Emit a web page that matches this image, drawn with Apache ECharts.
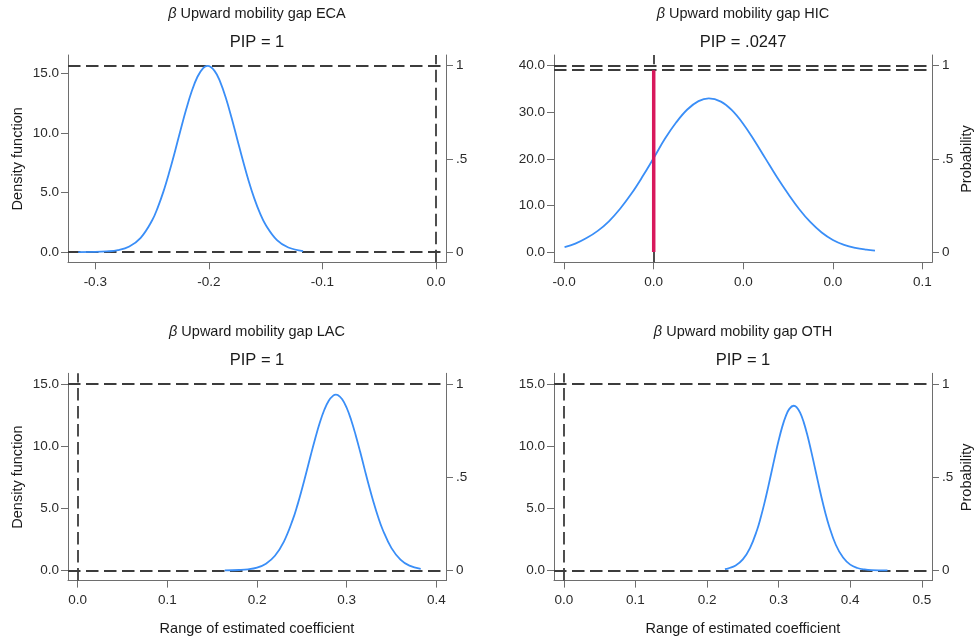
<!DOCTYPE html>
<html>
<head>
<meta charset="utf-8">
<script src="https://cdn.jsdelivr.net/npm/echarts@6/dist/echarts.min.js"></script>
<style>
  html, body { margin: 0; padding: 0; background: #ffffff; }
  #chart { width: 979px; height: 643px; }
</style>
</head>
<body>
<div id="chart"></div>
<script>
// Posterior density of the upward-mobility-gap coefficient by region,
// with the posterior inclusion probability (PIP) on a second axis.
const regions = ['ECA', 'HIC', 'LAC', 'OTH'];
const pip = [1, 0.0247, 1, 1];
const pipText = ['1', '.0247', '1', '1'];

// Density curves (coefficient value, density)
const ecaX = [-0.315, -0.30, -0.29, -0.28, -0.27, -0.26, -0.25, -0.245, -0.24, -0.235, -0.23, -0.225, -0.22, -0.215, -0.21, -0.205, -0.201, -0.195, -0.19, -0.185, -0.18, -0.175, -0.17, -0.165, -0.16, -0.155, -0.15, -0.14, -0.13, -0.117];
const ecaY = [0.0, 0.01, 0.05, 0.16, 0.47, 1.2, 2.65, 3.74, 5.08, 6.66, 8.4, 10.22, 11.98, 13.54, 14.74, 15.47, 15.65, 15.24, 14.31, 12.95, 11.29, 9.49, 7.69, 6.0, 4.51, 3.27, 2.29, 1.0, 0.38, 0.08];

const hicX = [-0.0199, -0.0175, -0.015, -0.0125, -0.01, -0.0075, -0.005, -0.0025, 0, 0.0025, 0.005, 0.0075, 0.01, 0.0123, 0.015, 0.0175, 0.02, 0.0225, 0.025, 0.0275, 0.03, 0.0325, 0.035, 0.0375, 0.04, 0.0425, 0.045, 0.0475, 0.0494];
const hicY = [1.05, 1.8, 3.0, 4.55, 6.6, 9.3, 12.5, 16.2, 20.2, 24.3, 27.8, 30.6, 32.4, 33.0, 32.3, 30.4, 27.5, 23.9, 20.0, 16.1, 12.5, 9.2, 6.4, 4.2, 2.6, 1.55, 0.9, 0.5, 0.3];

const lacX = [0.164, 0.18, 0.19, 0.20, 0.21, 0.22, 0.23, 0.24, 0.245, 0.25, 0.255, 0.26, 0.265, 0.27, 0.275, 0.28, 0.285, 0.288, 0.29, 0.295, 0.30, 0.305, 0.31, 0.315, 0.32, 0.325, 0.33, 0.335, 0.34, 0.35, 0.36, 0.37, 0.3826];
const lacY = [0.0, 0.03, 0.08, 0.22, 0.54, 1.18, 2.32, 4.10, 5.23, 6.51, 7.87, 9.28, 10.64, 11.88, 12.91, 13.66, 14.07, 14.14, 14.11, 13.77, 13.09, 12.11, 10.90, 9.56, 8.15, 6.77, 5.48, 4.31, 3.31, 1.79, 0.87, 0.38, 0.12];

const othX = [0.225, 0.23, 0.24, 0.25, 0.26, 0.27, 0.275, 0.28, 0.285, 0.29, 0.295, 0.30, 0.305, 0.31, 0.315, 0.321, 0.325, 0.33, 0.335, 0.34, 0.345, 0.35, 0.355, 0.36, 0.365, 0.37, 0.38, 0.39, 0.40, 0.41, 0.42, 0.43, 0.452];
const othY = [0.09, 0.16, 0.39, 0.88, 1.79, 3.27, 4.25, 5.37, 6.60, 7.90, 9.21, 10.45, 11.55, 12.41, 13.0, 13.25, 13.14, 12.69, 11.93, 10.91, 9.72, 8.43, 7.12, 5.85, 4.68, 3.65, 2.04, 1.03, 0.46, 0.19, 0.07, 0.02, 0.0];

// Tick values
const xTicksECA = [-0.3, -0.2, -0.1, 0.0];
const xTicksHIC = [-0.02, 0, 0.02, 0.04, 0.06];
const xTicksLAC = [0, 0.1, 0.2, 0.3, 0.4];
const xTicksOTH = [0, 0.1, 0.2, 0.3, 0.4, 0.5];
const yTicksECA = [0, 5, 10, 15];
const yTicksHIC = [0, 10, 20, 30, 40];
const yTicksLAC = [0, 5, 10, 15];
const yTicksOTH = [0, 5, 10, 15];
const probTicks = [0, 0.5, 1];

// Density level that lines up with probability 1 on the right-hand axis
const densityAtProbOne = [15.67, 40, 15, 15];

// ---- layout and styling ----
const FONT = '"Liberation Sans", Arial, Helvetica, sans-serif';
const PROB_MIN = -0.055;
const PROB_MAX = 1.0575;
const GRID_W = 378;
const GRID_H = 207.3;
const AXIS_COLOR = '#6e6e6e';
const LABEL_COLOR = '#2a2a2a';
const TEXT_COLOR = '#1a1a1a';
const REF_COLOR = '#3c3c3c';
const CURVE_COLOR = '#3a8ef7';
const SPIKE_COLOR = '#d8185c';
const DASH = [12.5, 5.5];

const panels = [
  { xs: ecaX, ys: ecaY, xTicks: xTicksECA, yTicks: yTicksECA, xMin: -0.3240, xMax: 0.0088, left: 68, top: 55, leftTitle: true, rightTitle: false, bottomTitle: false },
  { xs: hicX, ys: hicY, xTicks: xTicksHIC, yTicks: yTicksHIC, xMin: -0.02226, xMax: 0.06213, left: 554, top: 55, leftTitle: false, rightTitle: true, bottomTitle: false },
  { xs: lacX, ys: lacY, xTicks: xTicksLAC, yTicks: yTicksLAC, xMin: -0.01082, xMax: 0.4108, left: 68, top: 373.3, leftTitle: true, rightTitle: false, bottomTitle: true },
  { xs: othX, ys: othY, xTicks: xTicksOTH, yTicks: yTicksOTH, xMin: -0.01369, xMax: 0.5142, left: 554, top: 373.3, leftTitle: false, rightTitle: true, bottomTitle: true }
];

const axisLine = { show: true, onZero: false, lineStyle: { color: AXIS_COLOR, width: 1 } };
const tickStyle = { color: AXIS_COLOR, width: 1 };
const labelBase = { color: LABEL_COLOR, fontSize: 13.5, fontFamily: FONT };

const grid = [];
const xAxis = [];
const yAxis = [];
const series = [];
const graphic = [];

panels.forEach((p, i) => {
  const scale = densityAtProbOne[i];
  grid.push({ left: p.left, top: p.top, width: GRID_W, height: GRID_H, containLabel: false, outerBoundsMode: 'none' });

  xAxis.push({
    type: 'value', gridIndex: i, min: p.xMin, max: p.xMax,
    axisLine: axisLine,
    axisTick: { show: true, length: 7, customValues: p.xTicks, lineStyle: tickStyle },
    axisLabel: Object.assign({ customValues: p.xTicks, margin: 13, formatter: v => Number(v).toFixed(1) }, labelBase),
    splitLine: { show: false }
  });

  yAxis.push({
    type: 'value', gridIndex: i, position: 'left', min: PROB_MIN * scale, max: PROB_MAX * scale,
    axisLine: axisLine,
    axisTick: { show: true, length: 7, customValues: p.yTicks, lineStyle: tickStyle },
    axisLabel: Object.assign({ customValues: p.yTicks, margin: 9, formatter: v => Number(v).toFixed(1) }, labelBase),
    splitLine: { show: false }
  });

  yAxis.push({
    type: 'value', gridIndex: i, position: 'right', min: PROB_MIN, max: PROB_MAX,
    axisLine: axisLine,
    axisTick: { show: true, length: 7, customValues: probTicks, lineStyle: tickStyle },
    axisLabel: Object.assign({ customValues: probTicks, margin: 10, formatter: v => (v === 0.5 ? '.5' : String(v)) }, labelBase),
    splitLine: { show: false }
  });

  // posterior density
  series.push({
    type: 'line', xAxisIndex: i, yAxisIndex: 2 * i,
    data: p.xs.map((x, k) => [x, p.ys[k]]),
    smooth: 0.4, showSymbol: false, symbol: 'none', silent: true, z: 6,
    lineStyle: { color: CURVE_COLOR, width: 1.8 }
  });

  // probability mass at zero (1 - PIP), with reference lines
  series.push({
    type: 'line', xAxisIndex: i, yAxisIndex: 2 * i + 1,
    data: [[0, 0], [0, 1 - pip[i]]],
    showSymbol: false, symbol: 'none', silent: true, z: 7,
    lineStyle: { color: SPIKE_COLOR, width: 3.5, cap: 'butt' },
    markLine: {
      silent: true, symbol: ['none', 'none'], z: 3, animation: false,
      label: { show: false },
      lineStyle: { color: REF_COLOR, width: 1.8, type: DASH, cap: 'butt' },
      data: [{ xAxis: 0 }, { yAxis: 1 }, { yAxis: 1 - pip[i] }]
    }
  });

  const cx = p.left + GRID_W / 2;
  graphic.push({
    type: 'text', x: cx, y: p.top - 41.3, silent: true,
    style: {
      text: '{g|β} Upward mobility gap ' + regions[i],
      rich: { g: { fontStyle: 'italic', fontSize: 14.5, fontFamily: FONT, fill: TEXT_COLOR } },
      fontSize: 14.5, fontFamily: FONT, fill: TEXT_COLOR,
      align: 'center', verticalAlign: 'middle'
    }
  });
  graphic.push({
    type: 'text', x: cx, y: p.top - 12.5, silent: true,
    style: {
      text: 'PIP = ' + pipText[i], fontSize: 16.5, fontFamily: FONT, fill: TEXT_COLOR,
      align: 'center', verticalAlign: 'middle'
    }
  });
  if (p.leftTitle) {
    graphic.push({
      type: 'text', x: 17.5, y: p.top + 103.8, rotation: Math.PI / 2, silent: true,
      style: { text: 'Density function', fontSize: 14.5, fontFamily: FONT, fill: TEXT_COLOR, align: 'center', verticalAlign: 'middle' }
    });
  }
  if (p.rightTitle) {
    graphic.push({
      type: 'text', x: 967, y: p.top + 104, rotation: Math.PI / 2, silent: true,
      style: { text: 'Probability', fontSize: 14.5, fontFamily: FONT, fill: TEXT_COLOR, align: 'center', verticalAlign: 'middle' }
    });
  }
  if (p.bottomTitle) {
    graphic.push({
      type: 'text', x: cx, y: 629, silent: true,
      style: { text: 'Range of estimated coefficient', fontSize: 14.5, fontFamily: FONT, fill: TEXT_COLOR, align: 'center', verticalAlign: 'middle' }
    });
  }
});

const chart = echarts.init(document.getElementById('chart'), null, { renderer: 'canvas', width: 979, height: 643 });
chart.setOption({
  backgroundColor: '#ffffff',
  animation: false,
  tooltip: { show: false },
  grid: grid,
  xAxis: xAxis,
  yAxis: yAxis,
  series: series,
  graphic: graphic
});
</script>
</body>
</html>
